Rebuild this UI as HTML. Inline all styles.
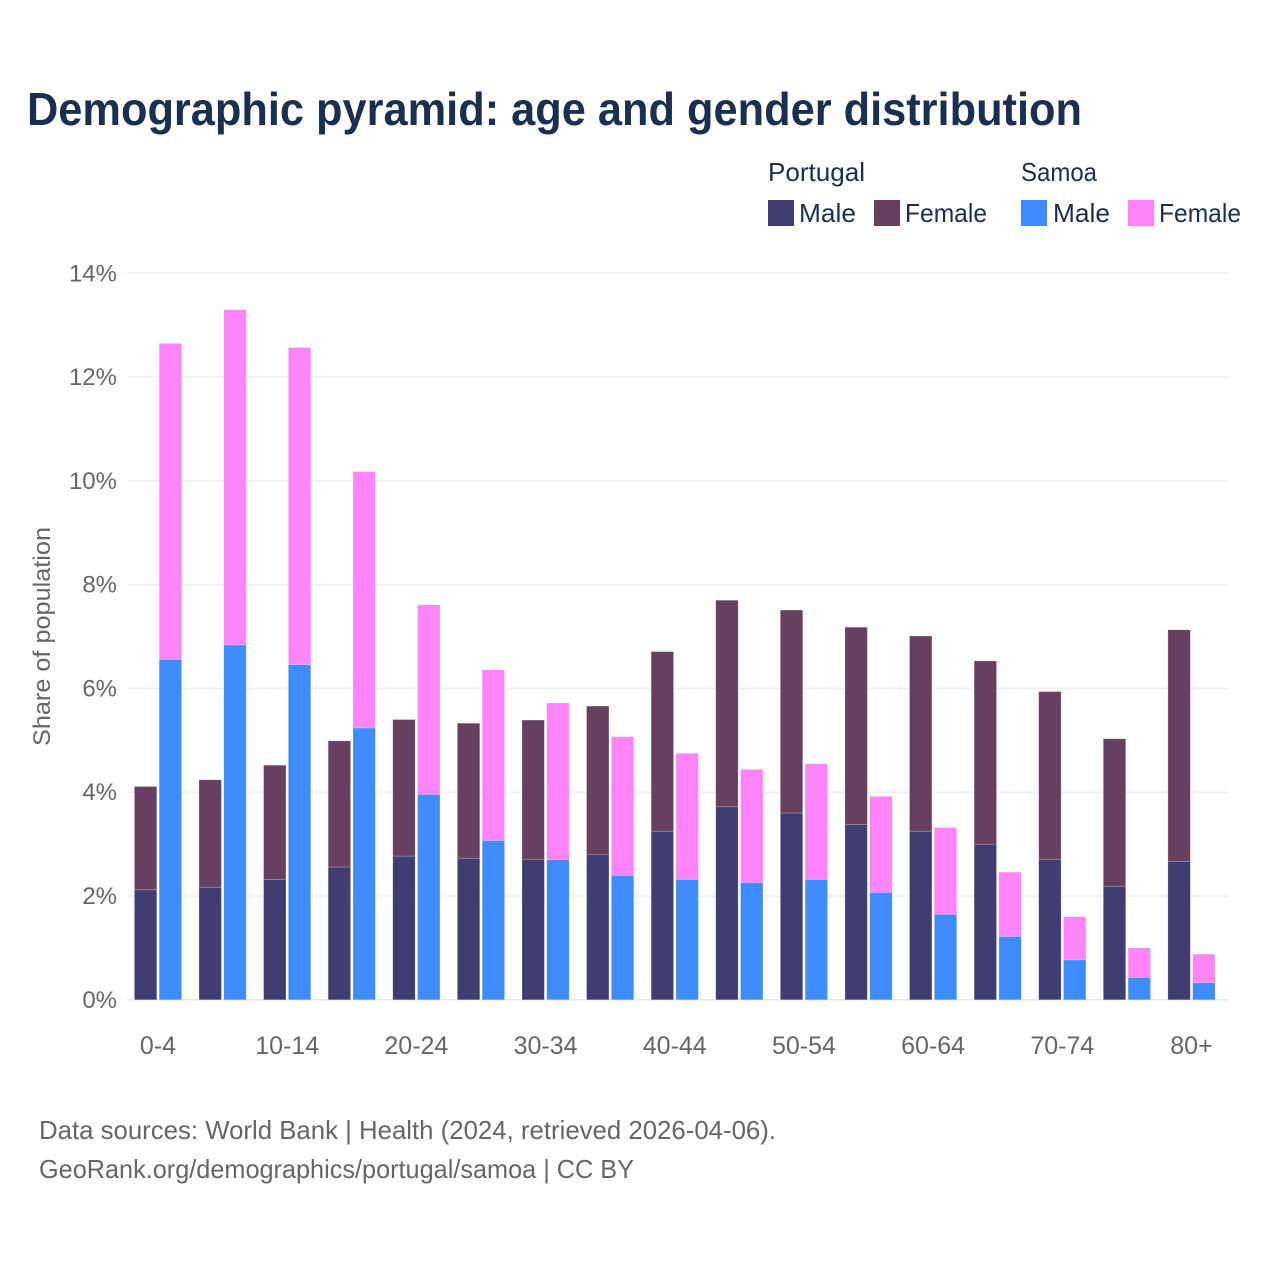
<!DOCTYPE html>
<html lang="en">
<head>
<meta charset="utf-8">
<title>Demographic pyramid: age and gender distribution</title>
<style>
html,body{margin:0;padding:0;background:#fff;}
svg{display:block;font-family:"Liberation Sans","DejaVu Sans",sans-serif;}
</style>
</head>
<body>
<svg id="chart" xmlns="http://www.w3.org/2000/svg" width="1280" height="1280" viewBox="0 0 1280 1280">
  <rect x="0" y="0" width="1280" height="1280" fill="#ffffff"/>
  <text x="27" y="125" font-size="46" font-weight="700" fill="#1a3050" textLength="1055" lengthAdjust="spacingAndGlyphs">Demographic pyramid: age and gender distribution</text>

  <g>
    <text x="768" y="181" font-size="26" fill="#1a3050" textLength="97" lengthAdjust="spacingAndGlyphs">Portugal</text>
    <text x="1021" y="181" font-size="26" fill="#1a3050" textLength="76" lengthAdjust="spacingAndGlyphs">Samoa</text>
    <rect x="768" y="200" width="26" height="26" fill="#413d70"/>
    <text x="799" y="222" font-size="26" fill="#1a3050" textLength="57" lengthAdjust="spacingAndGlyphs">Male</text>
    <rect x="874" y="200" width="26" height="26" fill="#674060"/>
    <text x="905" y="222" font-size="26" fill="#1a3050" textLength="82" lengthAdjust="spacingAndGlyphs">Female</text>
    <rect x="1021" y="200" width="26" height="26" fill="#3f8cff"/>
    <text x="1053" y="222" font-size="26" fill="#1a3050" textLength="57" lengthAdjust="spacingAndGlyphs">Male</text>
    <rect x="1128" y="200" width="26" height="26" fill="#ff85f8"/>
    <text x="1159" y="222" font-size="26" fill="#1a3050" textLength="82" lengthAdjust="spacingAndGlyphs">Female</text>
  </g>

  <g id="grid"></g>
  <g id="y-ticks"></g>
  <g id="bars"></g>
  <g id="x-ticks"></g>

  <text transform="translate(50,746) rotate(-90)" x="0" y="0" font-size="24" fill="#666666" textLength="219" lengthAdjust="spacingAndGlyphs">Share of population</text>

  <text x="39" y="1139" font-size="26" fill="#666666" textLength="737" lengthAdjust="spacingAndGlyphs">Data sources: World Bank | Health (2024, retrieved 2026-04-06).</text>
  <text x="39" y="1178" font-size="26" fill="#666666" textLength="595" lengthAdjust="spacingAndGlyphs">GeoRank.org/demographics/portugal/samoa | CC BY</text>
</svg>
<script>
const categories = ["0-4","5-9","10-14","15-19","20-24","25-29","30-34","35-39","40-44","45-49","50-54","55-59","60-64","65-69","70-74","75-79","80+"];
const portugalMale = [2.12,2.17,2.32,2.56,2.77,2.73,2.71,2.80,3.25,3.72,3.60,3.38,3.25,3.00,2.71,2.19,2.67];
const portugalFemale = [1.99,2.07,2.20,2.43,2.63,2.60,2.68,2.86,3.46,3.98,3.91,3.80,3.76,3.53,3.23,2.84,4.46];
const samoaMale = [6.56,6.84,6.46,5.24,3.96,3.07,2.70,2.40,2.32,2.26,2.32,2.07,1.65,1.22,0.77,0.43,0.33];
const samoaFemale = [6.09,6.46,6.11,4.94,3.65,3.29,3.02,2.67,2.43,2.18,2.23,1.85,1.67,1.24,0.83,0.57,0.55];
const yTickValues = [0,2,4,6,8,10,12,14];
const yTickLabels = ["0%","2%","4%","6%","8%","10%","12%","14%"];
const xTickLabels = ["0-4","","10-14","","20-24","","30-34","","40-44","","50-54","","60-64","","70-74","","80+"];

const NS = "http://www.w3.org/2000/svg";
const plotLeft = 127, plotRight = 1228;
const yZero = 999.8, yTop = 273.3, yMax = 14;
const firstCenter = 158, lastCenter = 1191.5;
const barWidth = 22.4, barGap = 2.4;

function yScale(v){ return yZero - (v / yMax) * (yZero - yTop); }
function xScale(i){ return firstCenter + i * (lastCenter - firstCenter) / (categories.length - 1); }
function make(tag, attrs, parent){
  const el = document.createElementNS(NS, tag);
  for (const k in attrs) el.setAttribute(k, attrs[k]);
  parent.appendChild(el);
  return el;
}

const gridLayer = document.getElementById("grid");
const yTickLayer = document.getElementById("y-ticks");
yTickValues.forEach(function(v, i){
  const y = yScale(v);
  const line = make("line", {x1: plotLeft, x2: plotRight, y1: y, y2: y, stroke: v === 0 ? "#e6e6e6" : "#eeeeee", "stroke-width": 1.6}, gridLayer);
  
  
  const label = make("text", {x: 117, y: y + 8, "text-anchor": "end", "font-size": 24, fill: "#666666"}, yTickLayer);
  label.textContent = yTickLabels[i];
  
  
});

const barLayer = document.getElementById("bars");
function drawSegment(x, base, value, color){
  const top = yScale(base + value);
  const rect = make("rect", {x: x, y: top, width: barWidth, height: yScale(base) - top, fill: color, stroke: "#ffffff", "stroke-opacity": 0.35, "stroke-width": 0.6}, barLayer);
  
  
}
categories.forEach(function(cat, i){
  const c = xScale(i);
  const xP = c - barGap / 2 - barWidth;
  const xS = c + barGap / 2;
  drawSegment(xP, 0, portugalMale[i], "#413d70");
  drawSegment(xP, portugalMale[i], portugalFemale[i], "#674060");
  drawSegment(xS, 0, samoaMale[i], "#3f8cff");
  drawSegment(xS, samoaMale[i], samoaFemale[i], "#ff85f8");
});

const xTickLayer = document.getElementById("x-ticks");
xTickLabels.forEach(function(t, i){
  if (!t) return;
  const label = make("text", {x: xScale(i), y: 1054, "text-anchor": "middle", "font-size": 25, fill: "#666666"}, xTickLayer);
  label.textContent = t;
  
  
});
</script>
</body>
</html>
